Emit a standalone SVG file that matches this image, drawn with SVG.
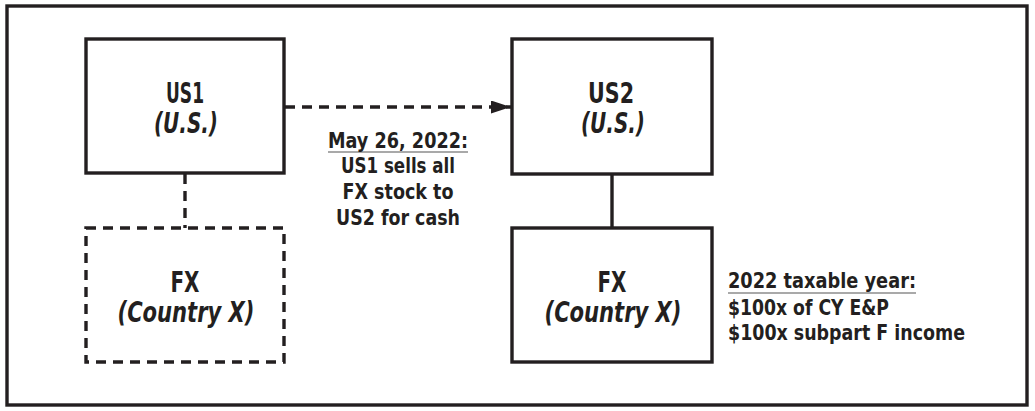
<svg xmlns="http://www.w3.org/2000/svg" width="1035" height="411" viewBox="0 0 1035 411">
<style>
.box{fill:#fff;stroke:#231f20;stroke-width:3.4}
.dbox{fill:#fff;stroke:#231f20;stroke-width:3.4;stroke-dasharray:10 7}
.t{font-family:"DejaVu Sans Condensed","DejaVu Sans",sans-serif;font-stretch:condensed;font-weight:bold;fill:#231f20}
.n{font-size:28px;text-anchor:middle}
.i{font-style:italic}
.m{font-size:22px;text-anchor:middle}
.r{font-size:22px}
.ul{stroke:#8c8c8c;stroke-width:1.6}
</style>
<defs>
<marker id="ah" markerWidth="20" markerHeight="13" refX="20" refY="6.5" orient="auto" markerUnits="userSpaceOnUse">
<path d="M0,0 L20,6.5 L0,13 Z" fill="#231f20"/>
</marker>
</defs>
<rect x="7" y="6" width="1020" height="399" fill="#fff" stroke="#231f20" stroke-width="3.4"/>
<g id="connectors">
<line x1="285" y1="107" x2="511" y2="107" stroke="#231f20" stroke-width="3.4" stroke-dasharray="10 7" marker-end="url(#ah)"/>
<line x1="185" y1="174" x2="185" y2="228" stroke="#231f20" stroke-width="3.4" stroke-dasharray="10 7"/>
<line x1="612" y1="174" x2="612" y2="228" stroke="#231f20" stroke-width="3.4"/>
</g>
<g id="us1">
<rect class="box" x="86" y="39" width="198" height="134"/>
<text class="t n" x="185" y="103" textLength="38" lengthAdjust="spacingAndGlyphs">US1</text>
<text class="t n i" x="186" y="133" textLength="64" lengthAdjust="spacingAndGlyphs">(U.S.)</text>
</g>
<g id="fx-old">
<rect class="dbox" x="86" y="228" width="198" height="134"/>
<text class="t n" x="185" y="292" textLength="29" lengthAdjust="spacingAndGlyphs">FX</text>
<text class="t n i" x="186" y="322" textLength="137" lengthAdjust="spacingAndGlyphs">(Country X)</text>
</g>
<g id="us2">
<rect class="box" x="512" y="39" width="200" height="135"/>
<text class="t n" x="611" y="103" textLength="46" lengthAdjust="spacingAndGlyphs">US2</text>
<text class="t n i" x="613" y="133" textLength="64" lengthAdjust="spacingAndGlyphs">(U.S.)</text>
</g>
<g id="fx-new">
<rect class="box" x="512" y="228" width="200" height="134"/>
<text class="t n" x="612" y="292" textLength="29" lengthAdjust="spacingAndGlyphs">FX</text>
<text class="t n i" x="613" y="322" textLength="137" lengthAdjust="spacingAndGlyphs">(Country X)</text>
</g>
<g id="sale-label">
<line class="ul" x1="328" y1="152" x2="468" y2="152"/>
<text class="t m" x="398" y="148" textLength="140" lengthAdjust="spacingAndGlyphs">May 26, 2022:</text>
<text class="t m" x="398" y="173" textLength="114" lengthAdjust="spacingAndGlyphs">US1 sells all</text>
<text class="t m" x="398" y="199" textLength="111" lengthAdjust="spacingAndGlyphs">FX stock to</text>
<text class="t m" x="398" y="225" textLength="124" lengthAdjust="spacingAndGlyphs">US2 for cash</text>
</g>
<g id="year-label">
<line class="ul" x1="728" y1="293" x2="916" y2="293"/>
<text class="t r" x="728" y="288" textLength="188" lengthAdjust="spacingAndGlyphs">2022 taxable year:</text>
<text class="t r" x="728" y="315" textLength="161" lengthAdjust="spacingAndGlyphs">$100x of CY E&amp;P</text>
<text class="t r" x="728" y="340" textLength="237" lengthAdjust="spacingAndGlyphs">$100x subpart F income</text>
</g>
</svg>
